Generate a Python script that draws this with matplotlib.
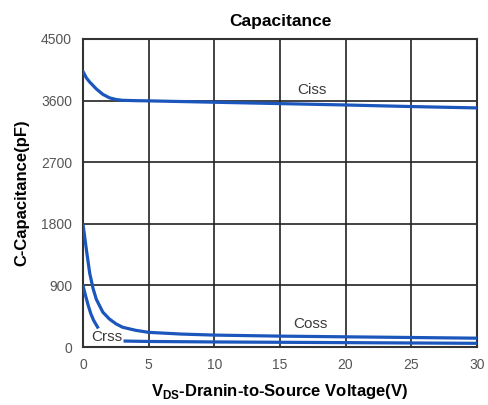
import numpy as np
import matplotlib.pyplot as plt

plt.rcParams['font.family'] = ['Liberation Sans', 'DejaVu Sans']
plt.rcParams['mathtext.fontset'] = 'custom'
plt.rcParams['mathtext.bf'] = 'Liberation Sans:bold'

# readings (pF vs V)
vds = [0, 0.25, 0.5, 0.75, 1, 1.5, 2, 2.5, 3, 4, 5, 7.5, 10, 15, 20, 25, 30]
ciss = [4020, 3930, 3870, 3820, 3770, 3690, 3640, 3615, 3603, 3598, 3595, 3585, 3575, 3555, 3535, 3512, 3492]
coss = [1780, 1420, 1080, 860, 700, 510, 410, 340, 290, 245, 215, 190, 175, 160, 150, 140, 130]

vds_crss_a = [0, 0.2, 0.4, 0.6, 0.8, 1.1]
crss_a = [890, 740, 600, 480, 390, 292]
vds_crss_b = [3.2, 5, 10, 15, 20, 25, 30]
crss_b = [88, 82, 75, 70, 65, 60, 55]

yticks = [0, 900, 1800, 2700, 3600, 4500]
xticks = [0, 5, 10, 15, 20, 25, 30]

blue = '#1a56bb'

fig = plt.figure(figsize=(4.89, 4.05), dpi=100)
ax = fig.add_axes([0.170, 0.143, 0.805, 0.761])

ax.plot(vds, ciss, color=blue, lw=2.3, zorder=3)
ax.plot(vds, coss, color=blue, lw=2.3, zorder=3)
ax.plot(vds_crss_a, crss_a, color=blue, lw=2.3, zorder=3)
ax.plot(vds_crss_b, crss_b, color=blue, lw=2.3, zorder=3)

ax.text(17.4, 3755, 'Ciss', fontsize=11, color='#3a3a3a', ha='center', va='center')
ax.text(17.3, 330, 'Coss', fontsize=11, color='#3a3a3a', ha='center', va='center')
ax.text(1.8, 150, 'Crss', fontsize=11, color='#3a3a3a', ha='center', va='center')

ax.set_xlim(0, 30)
ax.set_ylim(0, 4500)
ax.set_xticks(xticks)
ax.set_yticks(yticks)
ax.tick_params(length=0, labelsize=10, labelcolor='#555555', pad=8)
ax.grid(True, color='#222222', lw=1.2)
ax.set_axisbelow(True)
for s in ax.spines.values():
    s.set_color('#333333')
    s.set_linewidth(1.5)

ax.set_title('Capacitance', fontsize=12.5, fontweight='bold', pad=9)
ax.set_xlabel(r'V$_{\mathbf{DS}}$-Dranin-to-Source Voltage(V)', fontsize=12, fontweight='bold', labelpad=7)
ax.set_ylabel('C-Capacitance(pF)', fontsize=12, fontweight='bold', labelpad=8)

fig.savefig('out.png', dpi=100)
